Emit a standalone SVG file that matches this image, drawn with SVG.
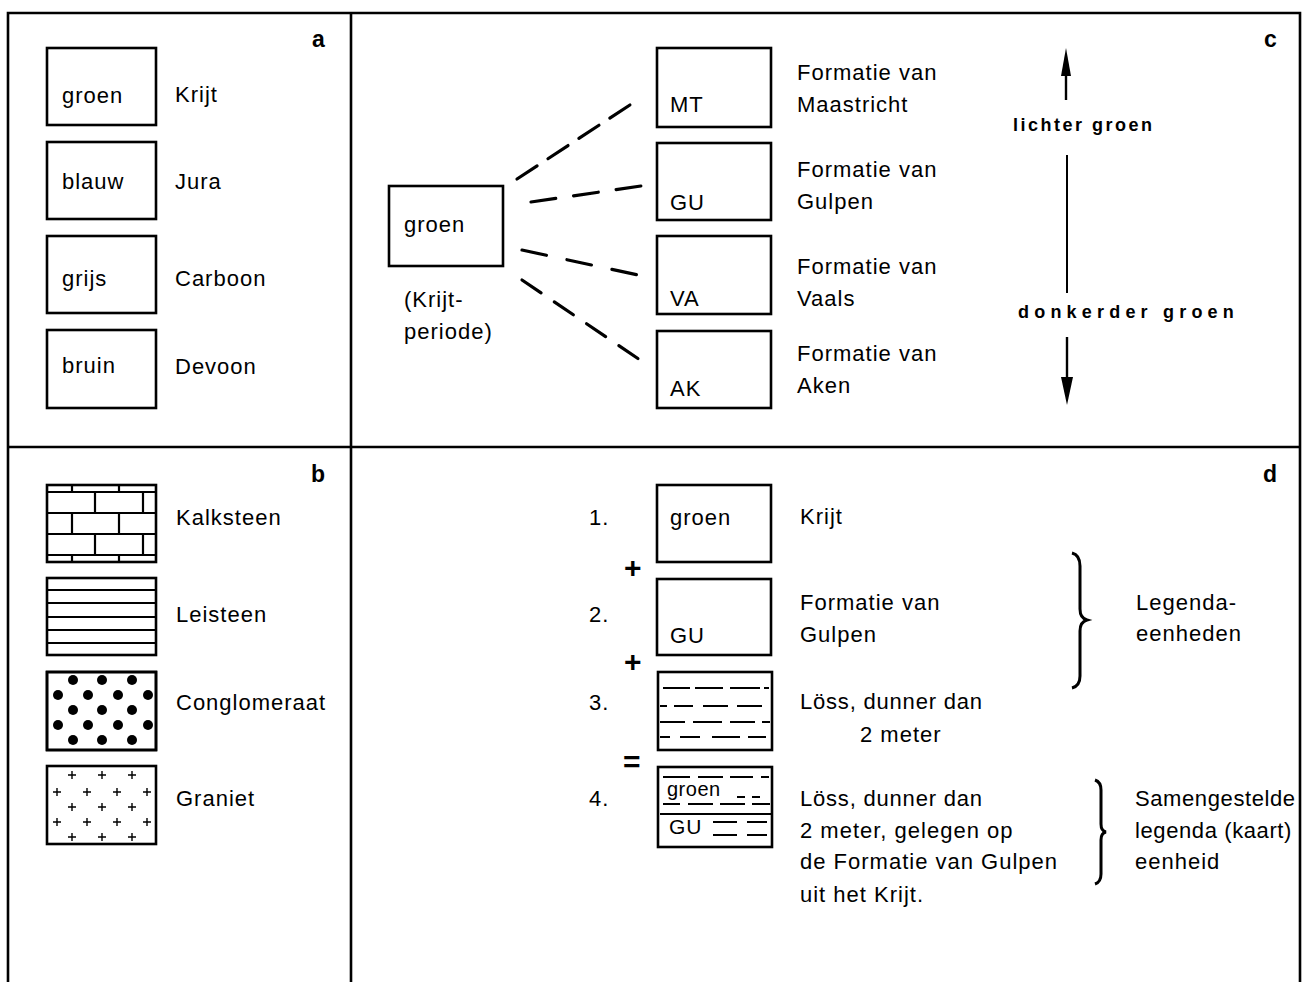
<svg xmlns="http://www.w3.org/2000/svg" width="1303" height="982" viewBox="0 0 1303 982">
<style>
text{font-family:"Liberation Sans",Arial,sans-serif;font-size:22px;fill:#000;letter-spacing:1px}
.lbl{font-weight:bold;font-size:23px;letter-spacing:0}
.sp{font-weight:bold;font-size:18px}
.box{fill:#fff;stroke:#000;stroke-width:2.6}
.frame{fill:none;stroke:#000;stroke-width:2.6}
.thin{fill:none;stroke:#000;stroke-width:1.8}
.dash{fill:none;stroke:#000;stroke-width:3.2;stroke-linecap:round}
.sym{font-weight:bold;font-size:30px;letter-spacing:0}
</style>
<rect width="1303" height="982" fill="#fff"/>
<g id="frame">
<path class="frame" d="M8,982 V13 H1300 V982 M351,13 V982 M8,447 H1300"/>
<text class="lbl" x="312" y="47">a</text>
<text class="lbl" x="311" y="482">b</text>
<text class="lbl" x="1264" y="47">c</text>
<text class="lbl" x="1263" y="482">d</text>
</g>
<g id="panel-a">
<g id="a-groen"><rect class="box" x="47" y="48" width="109" height="77"/><text x="62" y="103">groen</text><text x="175" y="102">Krijt</text></g>
<g id="a-blauw"><rect class="box" x="47" y="142" width="109" height="77"/><text x="62" y="189">blauw</text><text x="175" y="189">Jura</text></g>
<g id="a-grijs"><rect class="box" x="47" y="236" width="109" height="77"/><text x="62" y="286">grijs</text><text x="175" y="286">Carboon</text></g>
<g id="a-bruin"><rect class="box" x="47" y="330" width="109" height="78"/><text x="62" y="373">bruin</text><text x="175" y="374">Devoon</text></g>
</g>
<g id="panel-b">
<g id="b-kalksteen"><rect class="box" x="47" y="485" width="109" height="77"/>
<path fill="none" stroke="#000" stroke-width="2.2" d="M47,492 H156 M47,513 H156 M47,534 H156 M47,555 H156 M72,485 V492 M119,485 V492 M95,492 V513 M143,492 V513 M72,513 V534 M119,513 V534 M95,534 V555 M143,534 V555 M72,555 V562 M119,555 V562"/>
<text x="176" y="525">Kalksteen</text></g>
<g id="b-leisteen"><rect class="box" x="47" y="578" width="109" height="77"/>
<path class="thin" d="M47,590 H156 M47,603 H156 M47,617 H156 M47,630 H156 M47,643 H156"/>
<text x="176" y="622">Leisteen</text></g>
<g id="b-conglomeraat"><rect class="box" x="47" y="672" width="109" height="78"/>
<g fill="#000"><circle cx="73" cy="680" r="5"/><circle cx="102" cy="680" r="5"/><circle cx="132" cy="680" r="5"/>
<circle cx="58" cy="695" r="5"/><circle cx="88" cy="695" r="5"/><circle cx="118" cy="695" r="5"/><circle cx="148" cy="695" r="5"/>
<circle cx="73" cy="710" r="5"/><circle cx="102" cy="710" r="5"/><circle cx="132" cy="710" r="5"/>
<circle cx="58" cy="725" r="5"/><circle cx="88" cy="725" r="5"/><circle cx="118" cy="725" r="5"/><circle cx="148" cy="725" r="5"/>
<circle cx="73" cy="740" r="5"/><circle cx="102" cy="740" r="5"/><circle cx="132" cy="740" r="5"/></g>
<rect x="47" y="672" width="109" height="78" fill="none" stroke="#000" stroke-width="2.6"/>
<text x="176" y="710">Conglomeraat</text></g>
<g id="b-graniet"><rect class="box" x="47" y="766" width="109" height="78"/>
<path fill="none" stroke="#000" stroke-width="1.4" d="M68,775 h8 M72,771 v8 M98,775 h8 M102,771 v8 M128,775 h8 M132,771 v8
M53,792 h8 M57,788 v8 M83,792 h8 M87,788 v8 M113,792 h8 M117,788 v8 M143,792 h8 M147,788 v8
M68,807 h8 M72,803 v8 M98,807 h8 M102,803 v8 M128,807 h8 M132,803 v8
M53,822 h8 M57,818 v8 M83,822 h8 M87,818 v8 M113,822 h8 M117,818 v8 M143,822 h8 M147,818 v8
M68,837 h8 M72,833 v8 M98,837 h8 M102,833 v8 M128,837 h8 M132,833 v8"/>
<text x="176" y="806">Graniet</text></g>
</g>
<g id="panel-c">
<g id="c-groen"><rect class="box" x="389" y="186" width="114" height="80"/><text x="404" y="232">groen</text>
<text x="404" y="307">(Krijt-</text><text x="404" y="339">periode)</text></g>
<g id="c-mt"><rect class="box" x="657" y="48" width="114" height="79"/><text x="670" y="112">MT</text><text x="797" y="80">Formatie van</text><text x="797" y="112">Maastricht</text></g>
<g id="c-gu"><rect class="box" x="657" y="143" width="114" height="77"/><text x="670" y="210">GU</text><text x="797" y="177">Formatie van</text><text x="797" y="209">Gulpen</text></g>
<g id="c-va"><rect class="box" x="657" y="236" width="114" height="78"/><text x="670" y="306">VA</text><text x="797" y="274">Formatie van</text><text x="797" y="306">Vaals</text></g>
<g id="c-ak"><rect class="box" x="657" y="331" width="114" height="77"/><text x="670" y="396">AK</text><text x="797" y="361">Formatie van</text><text x="797" y="393">Aken</text></g>
<g id="c-scale">
<path d="M1066,100 V70" stroke="#000" stroke-width="2.4"/>
<polygon points="1066,48 1061,76 1071,76" fill="#000"/>
<path d="M1067,155 V293" stroke="#000" stroke-width="2"/>
<path d="M1067,337 V380" stroke="#000" stroke-width="2.4"/>
<polygon points="1067,405 1061,377 1073,377" fill="#000"/>
<text class="sp" x="1013" y="131" style="letter-spacing:2.5px">lichter groen</text>
<text class="sp" x="1018" y="318" style="letter-spacing:5.2px">donkerder groen</text>
</g>
</g>
<g id="connectors">
<line class="dash" x1="517" y1="179" x2="636" y2="101" stroke-dasharray="24 13"/>
<line class="dash" x1="531" y1="202" x2="641" y2="186" stroke-dasharray="25 18"/>
<line class="dash" x1="522" y1="250" x2="638" y2="275" stroke-dasharray="25 21"/>
<line class="dash" x1="522" y1="280" x2="646" y2="364" stroke-dasharray="23 16"/>
</g>
<g id="panel-d">
<g id="d-1"><text x="589" y="525">1.</text><rect class="box" x="657" y="485" width="114" height="77"/><text x="670" y="525">groen</text><text x="800" y="524">Krijt</text></g>
<text class="sym" x="624" y="578">+</text>
<g id="d-2"><text x="589" y="622">2.</text><rect class="box" x="657" y="579" width="114" height="76"/><text x="670" y="643">GU</text><text x="800" y="610">Formatie van</text><text x="800" y="642">Gulpen</text></g>
<text class="sym" x="624" y="672">+</text>
<g id="d-3"><text x="589" y="710">3.</text><rect class="box" x="658" y="672" width="114" height="78"/>
<path class="thin" d="M663,688 H690 M695,688 H723 M730,688 H760 M764,688 H769 M660,706 H667 M674,706 H693 M703,706 H728 M737,706 H762 M660,722 H685 M693,722 H722 M730,722 H755 M762,722 H770 M660,737 H670 M680,737 H700 M712,737 H740 M748,737 H766"/>
<text x="800" y="709" style="letter-spacing:0.8px">Löss, dunner dan</text><text x="860" y="742">2 meter</text></g>
<text class="sym" x="623" y="772">=</text>
<g id="d-4"><text x="589" y="806">4.</text><rect class="box" x="658" y="767" width="114" height="80"/>
<path class="thin" d="M663,777 H690 M698,777 H723 M730,777 H753 M761,777 H769 M737,797 H745 M752,797 H760 M663,804 H680 M688,804 H713 M720,804 H745 M752,804 H770 M660,814 H771 M713,822 H737 M747,822 H767 M713,835 H737 M747,835 H767"/>
<text x="667" y="796" style="font-size:20px;letter-spacing:0.5px">groen</text><text x="669" y="834" style="font-size:21px">GU</text>
<text x="800" y="806" style="letter-spacing:0.8px">Löss, dunner dan</text><text x="800" y="838">2 meter, gelegen op</text><text x="800" y="869">de Formatie van Gulpen</text><text x="800" y="902">uit het Krijt.</text></g>
<g id="d-brace1"><path d="M1072,553 Q1080,555 1080,566 V609 Q1080,618 1087,620 Q1080,622 1080,631 V676 Q1080,686 1072,688" fill="none" stroke="#000" stroke-width="3"/>
<text x="1136" y="610">Legenda-</text><text x="1136" y="641">eenheden</text></g>
<g id="d-brace2"><path d="M1095,780 Q1101,782 1101,790 V824 Q1101,831 1106,832 Q1101,833 1101,840 V874 Q1101,882 1095,884" fill="none" stroke="#000" stroke-width="3"/>
<text x="1135" y="806" style="letter-spacing:0.6px">Samengestelde</text><text x="1135" y="838" style="letter-spacing:0.6px">legenda (kaart)</text><text x="1135" y="869">eenheid</text></g>
</g>
</svg>
